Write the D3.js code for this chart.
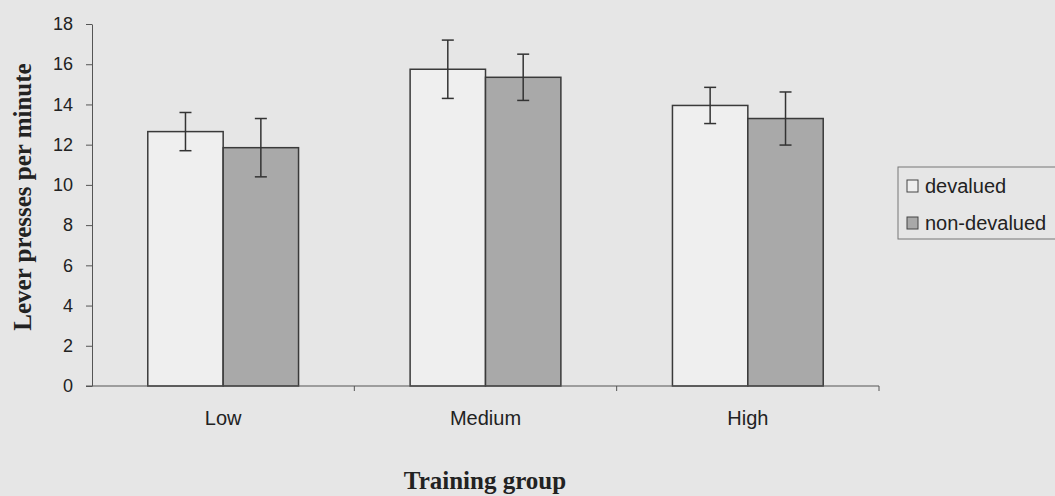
<!DOCTYPE html>
<head>
  <meta charset="utf-8">
  <script src="https://d3js.org/d3.v7.min.js"></script>
</head>
<body>
  <div id="chart"></div>

  <script>
    var width = 1055;
    var height = 496;

    // data
    var groups = ['Low', 'Medium', 'High'];
    var series = ['devalued', 'non-devalued'];
    var devalued = [12.65, 15.75, 13.95];
    var devaluedErr = [0.95, 1.45, 0.9];
    var nonDevalued = [11.85, 15.35, 13.3];
    var nonDevaluedErr = [1.45, 1.15, 1.32];
    var yTicks = [0, 2, 4, 6, 8, 10, 12, 14, 16, 18];

    var fills = {'devalued': '#efefef', 'non-devalued': '#a9a9a9'};

    // build rows for drawing
    var rows = [];
    groups.forEach(function(g, i) {
      rows.push({group: g, series: 'devalued', value: devalued[i], err: devaluedErr[i]});
      rows.push({group: g, series: 'non-devalued', value: nonDevalued[i], err: nonDevaluedErr[i]});
    });

    var margin = {left: 92, right: 176, top: 24, bottom: 110};

    var svg = d3.select('#chart')
      .append('svg')
        .attr('width', width)
        .attr('height', height);

    var x0 = d3.scaleBand()
      .domain(groups)
      .range([margin.left, width - margin.right]);

    var x1 = d3.scaleBand()
      .domain(series)
      .range([0, x0.bandwidth()])
      .paddingOuter(0.74);

    var y = d3.scaleLinear()
      .domain([0, 18])
      .range([height - margin.bottom, margin.top]);

    // y axis
    svg.append('g')
      .attr('class', 'axis')
      .attr('transform', 'translate(' + margin.left + ',0)')
      .call(d3.axisLeft(y).tickValues(yTicks).tickSize(6).tickPadding(13).tickSizeOuter(0));

    // bars
    svg.append('g')
      .selectAll('rect')
      .data(rows)
      .join('rect')
        .attr('x', d => x0(d.group) + x1(d.series))
        .attr('y', d => y(d.value))
        .attr('width', x1.bandwidth())
        .attr('height', d => y(0) - y(d.value))
        .attr('fill', d => fills[d.series])
        .attr('stroke', '#3a3a3a')
        .attr('stroke-width', 1.5);

    // error bars
    var eb = svg.append('g')
      .selectAll('g')
      .data(rows)
      .join('g')
        .attr('transform', d => 'translate(' + (x0(d.group) + x1(d.series) + x1.bandwidth() / 2) + ',0)');
    eb.append('line')
      .attr('y1', d => y(d.value + d.err))
      .attr('y2', d => y(d.value - d.err));
    eb.append('line')
      .attr('x1', -6).attr('x2', 6)
      .attr('y1', d => y(d.value + d.err))
      .attr('y2', d => y(d.value + d.err));
    eb.append('line')
      .attr('x1', -6).attr('x2', 6)
      .attr('y1', d => y(d.value - d.err))
      .attr('y2', d => y(d.value - d.err));
    eb.selectAll('line')
      .attr('stroke', '#333')
      .attr('stroke-width', 1.5);

    // x axis (ticks between groups)
    var xAxis = svg.append('g')
      .attr('transform', 'translate(0,' + y(0) + ')');
    xAxis.append('line')
      .attr('x1', margin.left - 6)
      .attr('x2', width - margin.right)
      .attr('stroke', '#555');
    xAxis.selectAll('.sep')
      .data(groups)
      .join('line')
        .attr('class', 'sep')
        .attr('x1', d => x0(d) + x0.bandwidth())
        .attr('x2', d => x0(d) + x0.bandwidth())
        .attr('y1', 0)
        .attr('y2', 5)
        .attr('stroke', '#555');
    xAxis.selectAll('.lab')
      .data(groups)
      .join('text')
        .attr('class', 'lab')
        .attr('x', d => x0(d) + x0.bandwidth() / 2)
        .attr('y', 39)
        .attr('text-anchor', 'middle')
        .text(d => d);

    // axis titles
    svg.append('text')
      .attr('class', 'title')
      .attr('transform', 'translate(31,197) rotate(-90)')
      .attr('text-anchor', 'middle')
      .text('Lever presses per minute');

    svg.append('text')
      .attr('class', 'title')
      .attr('x', 485)
      .attr('y', 489)
      .attr('text-anchor', 'middle')
      .text('Training group');

    // legend
    var legend = svg.append('g')
      .attr('transform', 'translate(898,167)');
    legend.append('rect')
      .attr('width', 160)
      .attr('height', 72)
      .attr('fill', 'none')
      .attr('stroke', '#777');
    var item = legend.selectAll('.item')
      .data(series)
      .join('g')
        .attr('class', 'item')
        .attr('transform', (d, i) => 'translate(9,' + (19 + i * 37) + ')');
    item.append('rect')
      .attr('x', 0)
      .attr('y', -6)
      .attr('width', 11)
      .attr('height', 12)
      .attr('fill', d => fills[d])
      .attr('stroke', '#444');
    item.append('text')
      .attr('x', 18)
      .attr('y', 7)
      .text(d => d);
  </script>
</body>

<style>
  body {
    margin: 0;
    background-color: #e6e6e6;
    font-family: 'Liberation Sans', Arial, sans-serif;
  }
  svg {
    display: block;
  }
  .axis text {
    font-family: 'Liberation Sans', Arial, sans-serif;
    font-size: 18px;
    fill: #222;
  }
  .lab, .item text {
    font-family: 'Liberation Sans', Arial, sans-serif;
    font-size: 20px;
    fill: #222;
  }
  .axis path, .axis line {
    stroke: #555;
  }
  .title {
    font-family: 'Liberation Serif', 'Times New Roman', serif;
    font-weight: bold;
    font-size: 25px;
    fill: #222;
  }
</style>
